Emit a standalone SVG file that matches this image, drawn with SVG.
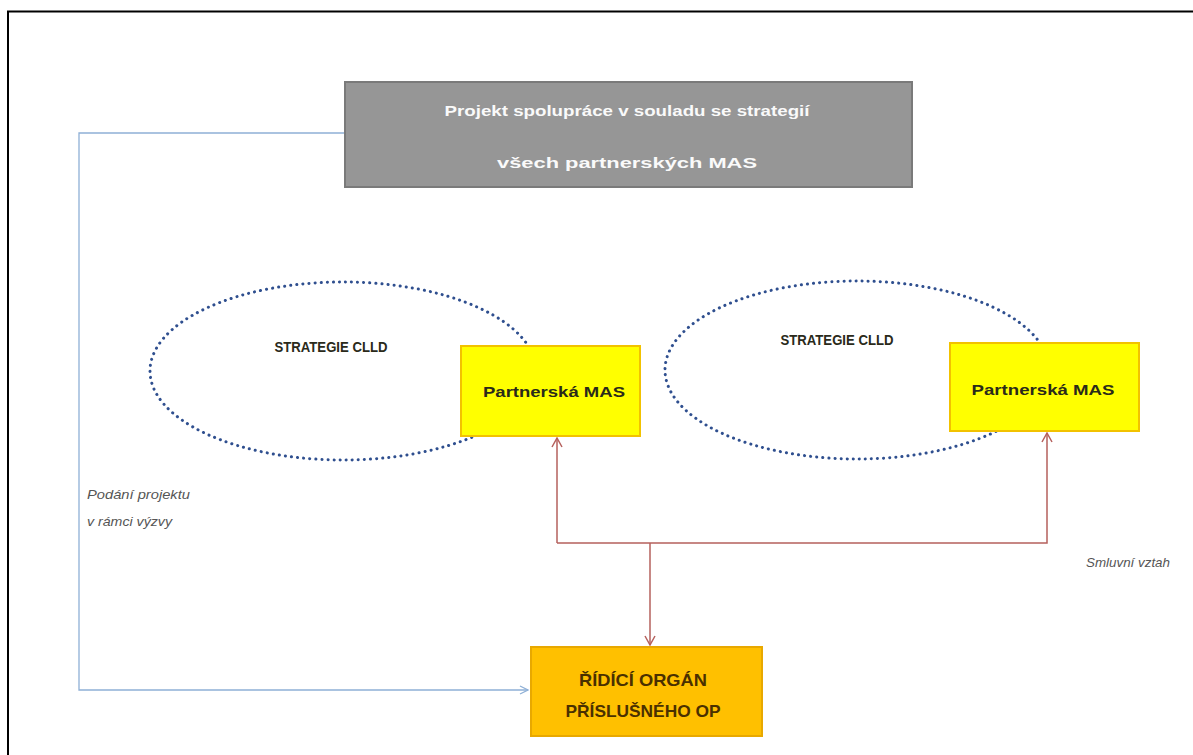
<svg xmlns="http://www.w3.org/2000/svg" width="1193" height="755" viewBox="0 0 1193 755">
<style>
.frame{stroke:#000;stroke-width:2;fill:none}
.ell{fill:none;stroke:#2f4f8f;stroke-width:3;stroke-dasharray:0.1 6;stroke-linecap:round}
.yel{fill:#ffff00;stroke:#f2c200;stroke-width:2}
.org{fill:#ffc000;stroke:#e8a800;stroke-width:2}
.gray{fill:#969696;stroke:#7a7a7a;stroke-width:2}
.t{font-family:"Liberation Sans",Arial,sans-serif;font-weight:bold;text-anchor:middle}
.wt{fill:#fafafa;font-size:15px}
.dk{fill:#2a2a1a;font-size:15px}
.ot{fill:#4a3000;font-size:17px}
.lab{font-family:"Liberation Sans",Arial,sans-serif;font-style:italic;font-size:13px;fill:#555}
.blue{fill:none;stroke:#8fb0d6;stroke-width:1.3}
.red{fill:none;stroke:#b5605c;stroke-width:1.5}
</style>
<defs>
<marker id="ab" markerWidth="10" markerHeight="10" refX="9" refY="5" orient="auto" markerUnits="userSpaceOnUse">
<path d="M1,1 L9,5 L1,9" fill="none" stroke="#8fb0d6" stroke-width="1.3"/>
</marker>
<marker id="ar" markerWidth="12" markerHeight="12" refX="10" refY="6" orient="auto" markerUnits="userSpaceOnUse">
<path d="M1,1 L10,6 L1,11" fill="none" stroke="#b5605c" stroke-width="1.5"/>
</marker>
</defs>
<rect width="1193" height="755" fill="#fff"/>
<path class="frame" d="M8,755 V11.5 H1193"/>

<g id="connectors">
<path class="blue" d="M345,133 H79 V690 H528" marker-end="url(#ab)"/>
<path class="red" d="M557,543 V438" marker-end="url(#ar)"/>
<path class="red" d="M557,543 H1047 V433" marker-end="url(#ar)"/>
<path class="red" d="M650,543 V645" marker-end="url(#ar)"/>
</g>

<g id="project">
<rect class="gray" x="345" y="82" width="567" height="105"/>
<text class="t wt" x="627" y="116" textLength="365" lengthAdjust="spacingAndGlyphs">Projekt spolupráce v  souladu se strategií</text>
<text class="t wt" x="627" y="168" textLength="260" lengthAdjust="spacingAndGlyphs">všech partnerských MAS</text>
</g>

<g id="strategy-left">
<ellipse class="ell" cx="343" cy="371" rx="193" ry="89"/>
<text class="t dk" x="331" y="352" textLength="113" lengthAdjust="spacingAndGlyphs">STRATEGIE CLLD</text>
</g>
<g id="strategy-right">
<ellipse class="ell" cx="857" cy="370" rx="192" ry="89"/>
<text class="t dk" x="837" y="345" textLength="113" lengthAdjust="spacingAndGlyphs">STRATEGIE CLLD</text>
</g>

<g id="mas-left">
<rect class="yel" x="461" y="346" width="179" height="90"/>
<text class="t dk" x="554" y="397" textLength="142" lengthAdjust="spacingAndGlyphs">Partnerská MAS</text>
</g>
<g id="mas-right">
<rect class="yel" x="950" y="343" width="189" height="88"/>
<text class="t dk" x="1043" y="395" textLength="143" lengthAdjust="spacingAndGlyphs">Partnerská MAS</text>
</g>

<g id="ro">
<rect class="org" x="531" y="647" width="231" height="89"/>
<text class="t ot" x="643" y="686" textLength="128" lengthAdjust="spacingAndGlyphs">ŘÍDÍCÍ ORGÁN</text>
<text class="t ot" x="643" y="717" textLength="155" lengthAdjust="spacingAndGlyphs">PŘÍSLUŠNÉHO OP</text>
</g>

<g id="labels">
<text class="lab" x="87" y="499" textLength="103" lengthAdjust="spacingAndGlyphs">Podání projektu</text>
<text class="lab" x="87" y="526" textLength="85" lengthAdjust="spacingAndGlyphs">v rámci  výzvy</text>
<text class="lab" x="1086" y="567" textLength="84" lengthAdjust="spacingAndGlyphs">Smluvní vztah</text>
</g>
</svg>
